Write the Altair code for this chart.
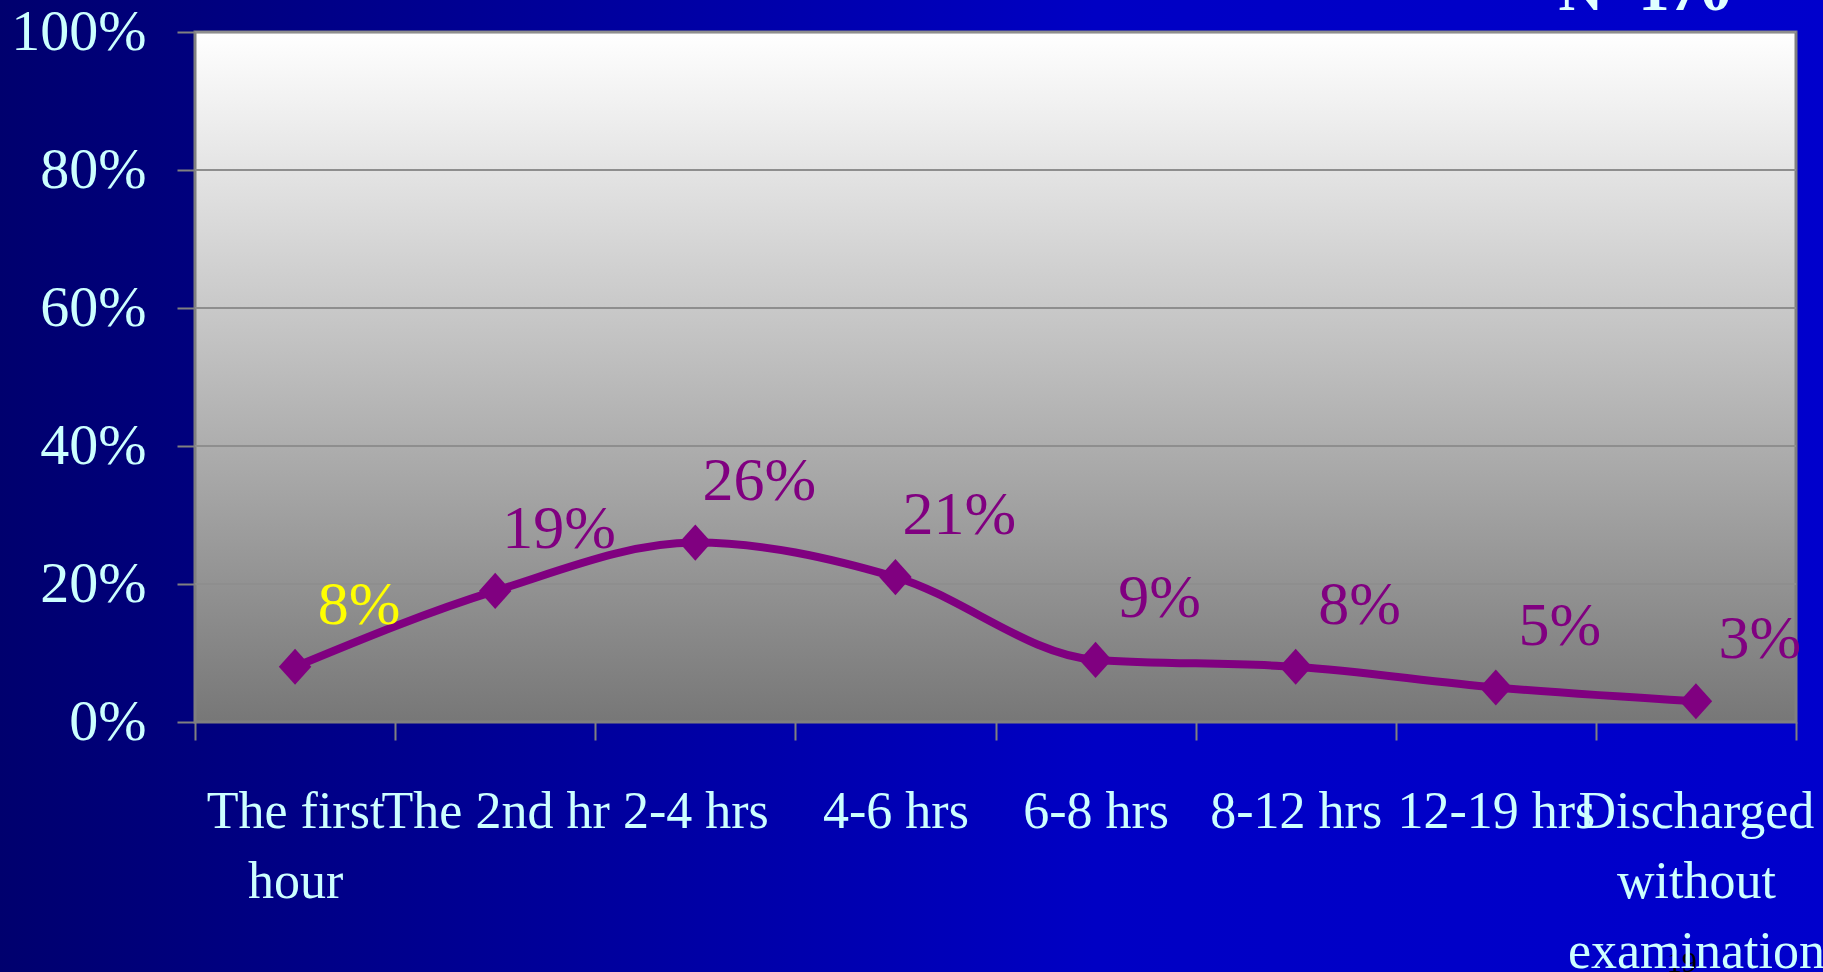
import altair as alt
import pandas as pd

# Time from arrival to examination, share of patients per interval
categories = [
    "The first hour",
    "The 2nd hr",
    "2-4 hrs",
    "4-6 hrs",
    "6-8 hrs",
    "8-12 hrs",
    "12-19 hrs",
    "Discharged without examination",
]
shares = [8, 19, 26, 21, 9, 8, 5, 3]
y_ticks = [0, 20, 40, 60, 80, 100]
grid_levels = [20, 40, 60, 80, 100]
sample_note = "N=170"
page_number = "19"

PLOT_W, PLOT_H = 1601, 690
SERIF = "Liberation Serif"
PURPLE = "#800080"
PALE = "#CCFFFF"

df = pd.DataFrame({"cat": categories, "share": shares, "order": range(len(categories))})
grid_df = pd.DataFrame({"share": grid_levels})
one = pd.DataFrame({"k": [0]})

label_expr = (
    "datum.label == 'The first hour' ? ['The first', 'hour'] : "
    "datum.label == 'Discharged without examination' ? ['Discharged', 'without', 'examination'] : "
    "datum.label"
)

x_enc = alt.X(
    "cat:N",
    sort=categories,
    scale=alt.Scale(type="band", paddingInner=0, paddingOuter=0),
    axis=alt.Axis(
        title=None,
        domain=False,
        grid=False,
        tickBand="extent",
        tickSize=18,
        tickWidth=2,
        tickColor="#808080",
        labelAngle=0,
        labelFont=SERIF,
        labelFontSize=52,
        labelColor=PALE,
        labelBaseline="alphabetic",
        labelLineHeight=70,
        labelPadding=87,
        labelLimit=0,
        labelOverlap=False,
        labelExpr=label_expr,
        zindex=1,
    ),
)
y_scale = alt.Scale(domain=[0, 100], nice=False, zero=True)
y_axis = alt.Axis(
    title=None,
    values=y_ticks,
    domain=False,
    grid=False,
    tickSize=18,
    tickWidth=2,
    tickColor="#808080",
    labelFont=SERIF,
    labelFontSize=58,
    labelColor=PALE,
    labelPadding=31,
    labelFlush=False,
    labelOverlap=False,
    labelExpr="datum.value + '%'",
    zindex=1,
)
y_enc = alt.Y("share:Q", scale=y_scale, axis=y_axis)

# slide background: dark navy on the left fading into bright blue
slide_bg = alt.Chart(one).mark_rect(
    color=alt.LinearGradient(
        gradient="linear",
        x1=0, x2=1, y1=0, y2=0,
        stops=[
            alt.GradientStop(color="#00006E", offset=0),
            alt.GradientStop(color="#0000C4", offset=0.6),
            alt.GradientStop(color="#0000CC", offset=1),
        ],
    )
).encode(x=alt.value(-195), x2=alt.value(1628), y=alt.value(-32), y2=alt.value(940))

# plot area: white at the top shading to grey at the bottom
plot_bg = alt.Chart(one).mark_rect(
    color=alt.LinearGradient(
        gradient="linear",
        x1=0, x2=0, y1=0, y2=1,
        stops=[
            alt.GradientStop(color="#FFFFFF", offset=0),
            alt.GradientStop(color="#777777", offset=1),
        ],
    ),
    stroke="#808080",
    strokeWidth=3,
).encode(x=alt.value(0), x2=alt.value(PLOT_W), y=alt.value(0), y2=alt.value(PLOT_H))

grid = alt.Chart(grid_df).mark_rule(color="#8E8E8E", strokeWidth=2).encode(
    y=y_enc,
    x=alt.value(0),
    x2=alt.value(PLOT_W),
)

line = alt.Chart(df).mark_line(
    interpolate="monotone", color=PURPLE, strokeWidth=8
).encode(x=x_enc, y=y_enc)

# slightly tall diamond markers
diamond = "M-0.9,0L0,-1L0.9,0L0,1Z"
points = alt.Chart(df).mark_point(
    shape=diamond, filled=True, size=1300, color=PURPLE, opacity=1
).encode(x=x_enc, y=y_enc)

labels = alt.Chart(df).mark_text(
    font=SERIF, fontSize=62, dx=64, dy=-62, baseline="middle", align="center"
).encode(
    x=x_enc,
    y=y_enc,
    text=alt.Text("label:N"),
    color=alt.condition("datum.order == 0", alt.value("#FFFF00"), alt.value(PURPLE)),
).transform_calculate(label="datum.share + '%'")

note = alt.Chart(one).mark_text(
    text=sample_note, font=SERIF, fontSize=62, fontWeight="bold",
    color="#E0FFFF", align="center", baseline="alphabetic",
).encode(x=alt.value(1450), y=alt.value(-22))

page = alt.Chart(one).mark_text(
    text=page_number, font=SERIF, fontSize=30, color="#000000",
    align="center", baseline="alphabetic",
).encode(x=alt.value(1487), y=alt.value(940))

chart = alt.layer(
    slide_bg, plot_bg, grid, line, points, labels, note, page
).properties(
    width=PLOT_W,
    height=PLOT_H,
    autosize=alt.AutoSizeParams(type="none"),
    padding={"left": 195, "top": 32, "right": 27, "bottom": 250},
).configure(
    background="#000070"
).configure_view(
    stroke=None
)

chart.save("out.html", embed_options={"renderer": "svg", "actions": False})
